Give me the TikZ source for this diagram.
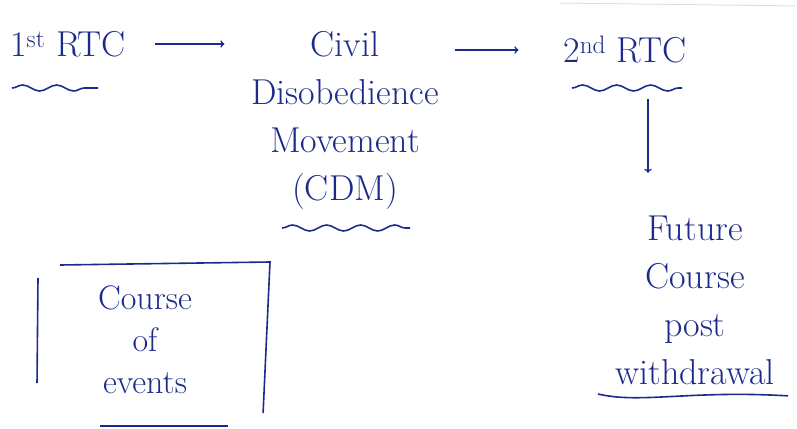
\documentclass[tikz,border=0pt]{standalone}
\usepackage{xcolor}
\usetikzlibrary{arrows,decorations.pathmorphing}
\definecolor{ink}{RGB}{28,42,140}

\begin{document}
\begin{tikzpicture}[x=1pt,y=-1pt,->,>=to,shorten >=2pt,auto,
                ink,line width=1.6pt,
                main node/.style={text=ink,font=\fontsize{36}{48}\selectfont,inner sep=0pt,align=center},
                wavy/.style={-,decorate,decoration={snake,segment length=34pt,amplitude=3pt}}]
  \useasboundingbox (0,0) rectangle (797,428);
  \draw[-,gray!25,line width=1pt] (560,3) -- (797,6);

  \node[main node] (1) at (68,44) {1\textsuperscript{st} RTC};
  \node[main node] (2) at (345,120) {Civil\\Disobedience\\Movement\\(CDM)};
  \node[main node] (3) at (625,50) {2\textsuperscript{nd} RTC};
  \node[main node] (4) at (695,300) {Future\\Course\\post\\withdrawal};
  \node[main node,font=\fontsize{34}{42}\selectfont] (5) at (145,340) {Course\\of\\events};

  \path
    (1.east) edge [shorten <=28pt,shorten >=26pt] (1.east -| 2.west)
    (3.west -| 2.east) edge [shorten <=15pt,shorten >=44pt] (3.west);

  \path
    ([xshift=23pt,yshift=-35pt]3.south) edge ([xshift=-47pt,yshift=40pt]4.north);

  \draw[wavy] (12,88) -- (100,88);
  \draw[wavy] (282,228) -- (412,228);
  \draw[wavy] (572,88) -- (684,88);
  \draw[-] (598,394) .. controls (640,404) and (690,390) .. (790,396);

  % box round course of events
  \draw[-] (38,278) -- (37,385);
  \draw[-] (60,265) -- (270,262) -- (263,415);
  \draw[-] (100,426) -- (230,426);
\end{tikzpicture}
\end{document}
